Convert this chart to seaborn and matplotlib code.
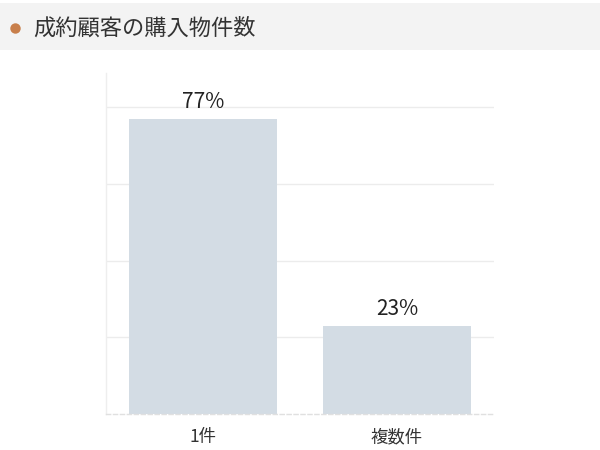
import matplotlib
matplotlib.use("Agg")
import matplotlib.pyplot as plt
import seaborn as sns
import pandas as pd
from matplotlib.patches import Rectangle
from matplotlib.lines import Line2D

categories = ["1件", "複数件"]
values = [77, 23]
title = "成約顧客の購入物件数"

sns.set_theme(style="white")
plt.rcParams['font.family'] = ['Noto Sans CJK JP', 'DejaVu Sans']

df = pd.DataFrame({"cat": categories, "val": values})

fig = plt.figure(figsize=(6, 4.5), dpi=100)
# title band
fig.patches.append(Rectangle((0, 1 - 50/450), 1, 47/450, transform=fig.transFigure,
                             facecolor="#f3f3f3", edgecolor="none", zorder=0))
fig.add_artist(Line2D([15/600], [1 - 28/450], marker="o", markersize=7.5,
                      color="#c87f4b", markeredgewidth=0, transform=fig.transFigure))
fig.text(33/600, 1 - 28/450, title, fontsize=16, color="#333333", va="center", ha="left")

ax = fig.add_axes([106/600, 1 - 414/450, 388/600, 341/450])
sns.barplot(data=df, x="cat", y="val", ax=ax, color="#d3dce4", width=0.76,
            saturation=1, edgecolor="none", zorder=2)
ax.set_ylim(0, 89)
ax.set_xlim(-0.5, 1.5)
ax.set_yticks([20, 40, 60, 80])
ax.set_yticklabels([])
ax.tick_params(axis="y", length=0)
ax.yaxis.grid(True, color="#ececec", linewidth=1)
ax.set_axisbelow(True)
ax.set_xlabel("")
ax.set_ylabel("")
ax.tick_params(axis="x", length=0, labelsize=12.5, labelcolor="#333333", pad=10)
ax.set_xticks([-0.5, 0.5, 1.5], minor=True)
ax.tick_params(axis="x", which="minor", length=6, color="#e8e8e8", width=1)
for s in ["top", "right"]:
    ax.spines[s].set_visible(False)
ax.spines["left"].set_color("#eeeeee")
ax.spines["left"].set_linewidth(1)
ax.spines["bottom"].set_color("#e0e0e0")
ax.spines["bottom"].set_linewidth(1)
ax.spines["bottom"].set_linestyle((0, (3, 2)))

for i, v in enumerate(values):
    ax.text(i, v + 1.5, f"{v}%", ha="center", va="bottom", fontsize=15, color="#222222")

fig.savefig("out.png", dpi=100)
